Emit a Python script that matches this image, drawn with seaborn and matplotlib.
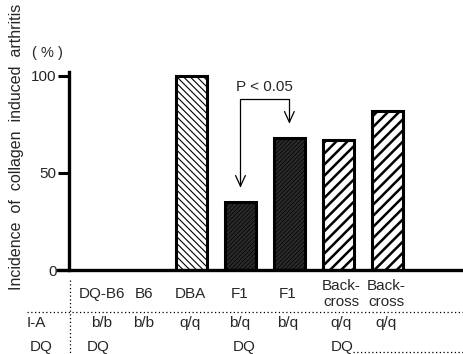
import matplotlib
matplotlib.use("Agg")
import matplotlib.pyplot as plt
import seaborn as sns
import pandas as pd

sns.set_theme(style="white")
plt.rcParams['font.family'] = ['Liberation Sans', 'DejaVu Sans']

# ---- data ----
groups = ["DQ-B6", "B6", "DBA", "F1", "F1 ", "Back-\ncross", "Back-\ncross "]
incidence = [0, 0, 100, 35, 68, 67, 82]
ia_alleles = ["b/b", "b/b", "q/q", "b/q", "b/q", "q/q", "q/q"]
dq_transgene = ["DQ", "", "", "DQ", "", "DQ", ""]
yticks = [0, 50, 100]
p_text = "P < 0.05"

df = pd.DataFrame({"group": groups, "incidence": incidence})

W, H = 464, 354
fig = plt.figure(figsize=(W / 100, H / 100), dpi=100)
ax = fig.add_axes([58 / W, 1 - 270 / H, 406 / W, 203.7 / H])

sns.barplot(data=df, x="group", y="incidence", order=groups, ax=ax,
            width=0.64, color="white", edgecolor="black", linewidth=2.2,
            saturation=1)

styles = {
    "DBA": dict(fc="white", hatch="\\\\\\\\\\", hlw=0.8),
    "F1": dict(fc="#2a2a2a", hatch="////////", hlw=0.5),
    "BC": dict(fc="white", hatch="///", hlw=1.8),
}
kinds = ["none", "none", "DBA", "F1", "F1", "BC", "BC"]
for patch, k in zip(ax.patches, kinds):
    if k == "none":
        patch.set_visible(False)
        continue
    s = styles[k]
    patch.set_facecolor(s["fc"])
    patch.set_hatch(s["hatch"])
    if hasattr(patch, "set_hatch_linewidth"):
        patch.set_hatch_linewidth(s["hlw"])

ax.set_xlim(-0.73, 7.57)
ax.set_ylim(0, 105)
ax.set_xlabel("")
ax.set_ylabel("")
ax.set_xticks([])
ax.set_yticks(yticks)
ax.set_yticklabels([str(v) for v in yticks], fontsize=11)
ax.get_yticklabels()[0].set_y(3)
ax.tick_params(axis="y", direction="out", length=8, width=2.2, pad=1,
               color="black", left=True)
for side in ["top", "right"]:
    ax.spines[side].set_visible(False)
ax.spines["left"].set_position(("data", -0.505))
ax.spines["left"].set_bounds(0, 102)
for side in ["left", "bottom"]:
    ax.spines[side].set_linewidth(2.4)
    ax.spines[side].set_color("black")

# significance bracket between the two F1 groups
i1, i2 = 3, 4
ytop = 88
ax.plot([i1, i1, i2, i2], [43.5, ytop, ytop, 76.5], color="black", lw=0.9)
for xi, yt in [(i1, 43.2), (i2, 76.2)]:
    ax.plot([xi - 0.1, xi, xi + 0.1], [yt + 5.5, yt, yt + 5.5],
            color="black", lw=0.9)
ax.text((i1 + i2) / 2, 94.5, p_text, ha="center", va="center", fontsize=11)

# axis titles
fig.text(17 / W, 1 - 147 / H, "Incidence  of  collagen  induced  arthritis",
         rotation=90, ha="center", va="center", fontsize=11.5)
fig.text(47 / W, 1 - 53 / H, "( % )", ha="center", va="center", fontsize=10.5)

# table under the axis
fs = 11
col_x = [102, 144, 190, 239.5, 288, 341, 386]
for x, g in zip(col_x, groups):
    fig.text(x / W, 1 - 294 / H, g.strip(), ha="center", va="center",
             fontsize=fs, linespacing=1.1)
for x, a in zip(col_x, ia_alleles):
    fig.text(x / W, 1 - 323 / H, a, ha="center", va="center", fontsize=fs)
dq_x = [98, 144, 190, 244, 288, 342, 386]
for x, d in zip(dq_x, dq_transgene):
    if d:
        fig.text(x / W, 1 - 347 / H, d, ha="center", va="center", fontsize=fs)
fig.text(36 / W, 1 - 323 / H, "I-A", ha="center", va="center", fontsize=fs)
fig.text(41 / W, 1 - 347 / H, "DQ", ha="center", va="center", fontsize=fs)

fig.add_artist(plt.Line2D([27 / W, 1], [1 - 312 / H] * 2, color="black",
                          lw=0.9, ls=(0, (1, 2))))
fig.add_artist(plt.Line2D([70.5 / W] * 2, [1 - 280 / H, 0], color="black",
                          lw=0.9, ls=(0, (1, 2))))
fig.add_artist(plt.Line2D([353 / W, 1], [1 - 352 / H] * 2, color="black",
                          lw=0.9, ls=(0, (1, 2))))

fig.savefig("out.png", dpi=100)
